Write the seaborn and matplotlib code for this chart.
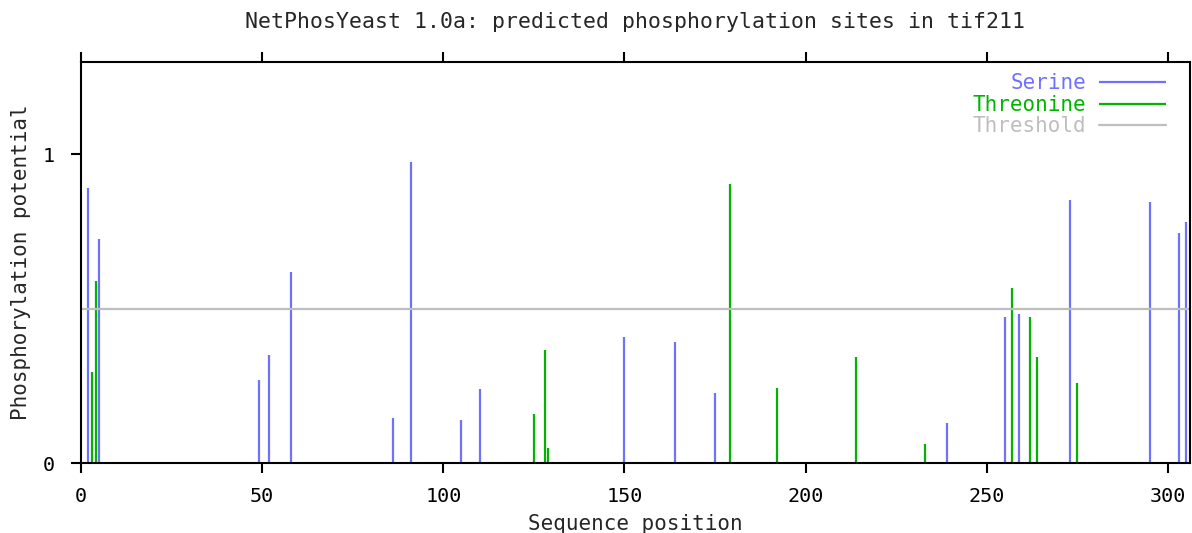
import matplotlib
matplotlib.use("Agg")
import matplotlib.pyplot as plt
import seaborn as sns

# Predicted sites for tif211
serine_pos = [2, 5, 49, 52, 58, 86, 91, 105, 110, 150, 164, 175, 239, 255, 259, 273, 295, 303, 305]
serine_score = [0.89, 0.725, 0.27, 0.35, 0.62, 0.147, 0.975, 0.141, 0.239, 0.41, 0.393, 0.226,
                0.129, 0.473, 0.484, 0.853, 0.846, 0.744, 0.78]
threonine_pos = [3, 4, 125, 128, 129, 179, 192, 214, 233, 257, 262, 264, 275]
threonine_score = [0.294, 0.589, 0.159, 0.368, 0.048, 0.903, 0.245, 0.343, 0.061, 0.569, 0.473,
                   0.343, 0.259]
threshold = 0.5
seq_length = 306
x_ticks = [0, 50, 100, 150, 200, 250, 300]
y_ticks = [0, 1]

SERINE_COLOR = "#7070ff"
THREONINE_COLOR = "#00b400"
THRESHOLD_COLOR = "#bebebe"

sns.set_theme(style="white")
plt.rcParams["font.family"] = ["DejaVu Sans Mono"]

fig = plt.figure(figsize=(11.92, 5.33), dpi=100)
ax = fig.add_axes([0.068, 0.131, 0.93, 0.753])

ax.vlines(serine_pos, 0, serine_score, color=SERINE_COLOR, lw=1.6, label="Serine")
ax.vlines(threonine_pos, 0, threonine_score, color=THREONINE_COLOR, lw=1.6, label="Threonine")
ax.axhline(threshold, color=THRESHOLD_COLOR, lw=1.6, label="Threshold")

ax.set_xlim(0, seq_length)
ax.set_ylim(0, 1.3)
ax.set_xticks(x_ticks)
ax.set_yticks(y_ticks)
ax.tick_params(axis="both", direction="out", length=7, width=1.5, colors="black",
               labelsize=14.5, top=True, right=True, bottom=True, left=True,
               labeltop=False, labelright=False)
ax.tick_params(axis="x", pad=10)
ax.tick_params(axis="y", pad=12)
ax.tick_params(axis="y", which="both", right=False)
for side in ["left", "right", "top", "bottom"]:
    ax.spines[side].set_color("black")
    ax.spines[side].set_linewidth(1.5)

ax.set_xlabel("Sequence position", fontsize=15, labelpad=6)
ax.set_ylabel("Phosphorylation potential", fontsize=15, labelpad=8)
ax.set_title("NetPhosYeast 1.0a: predicted phosphorylation sites in tif211",
             fontsize=15.5, pad=24)

leg = ax.legend(loc="upper right", bbox_to_anchor=(0.986, 0.992), borderaxespad=0,
                frameon=False, markerfirst=False, fontsize=15, handlelength=3.2,
                handletextpad=0.6, labelspacing=0.07)
for txt, col in zip(leg.get_texts(), [SERINE_COLOR, THREONINE_COLOR, THRESHOLD_COLOR]):
    txt.set_color(col)
    txt.set_ha("right")
for h in leg.legend_handles:
    h.set_linewidth(1.6)

fig.savefig("out.png", dpi=100)
